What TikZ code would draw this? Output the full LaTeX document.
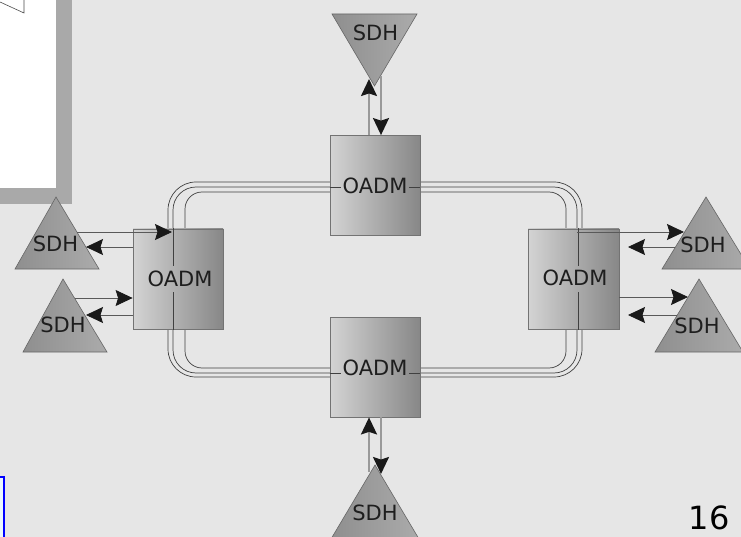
\documentclass[tikz,border=0pt]{standalone}
\usepackage{fontspec}
\setmainfont{DejaVu Sans}
\usetikzlibrary{arrows.meta}
\definecolor{bgc}{HTML}{E6E6E6}
\definecolor{shc}{HTML}{A9A9A9}
\definecolor{txc}{HTML}{1E1E1E}
\begin{document}
\begin{tikzpicture}[x=1pt,y=-1pt,
  ring/.style={draw=black!75, line width=0.7pt},
  oadm/.style={draw=black!55, line width=0.8pt, left color=black!17, right color=black!47, minimum width=90pt, minimum height=100pt, inner sep=0pt},
  sdh/.style={draw=black!60, line width=0.6pt, left color=black!44, right color=black!33},
  lbl/.style={font=\fontsize{21}{25}\selectfont, text=txc, inner sep=0pt},
  tip/.style={-{Stealth[length=17pt,width=16pt,inset=2.5pt,color=black!90]}},
  harr/.style={tip, draw=black!65, line width=0.8pt},
  varr/.style={tip, draw=black!40, line width=1.8pt},
]
\useasboundingbox (0,0) rectangle (741,537);
\fill[bgc] (0,0) rectangle (741,537);

% callout (top left)
\fill[shc] (0,0) rectangle (72,204);
\fill[white] (0,0) rectangle (56,188);
\draw[black!70, line width=0.6pt] (0,2) -- (24,13) -- (24,0);

% blue frame (bottom left)
\fill[cyan!8] (-2,477) rectangle (4,540);
\draw[blue, line width=1.4pt] (-2,477) -- (4,477) -- (4,540);

% ring
\draw[ring, rounded corners=28pt] (168,182) rectangle (582,377);
\draw[ring, rounded corners=23pt] (173,187) rectangle (577,373);
\draw[ring, rounded corners=17pt] (185,192) rectangle (566,368);

% OADM boxes
\node[oadm] (top) at (375,185.5) {};
\node[oadm] (bot) at (375,367) {};
\node[oadm] (lft) at (178,279) {};
\node[oadm, minimum width=91pt] (rgt) at (573.5,279) {};

% middle ring line drawn over the boxes
\draw[ring] (top.west |- 0,187) -- (341,187);
\draw[ring] (409,187) -- (top.east |- 0,187);
\draw[ring] (bot.west |- 0,373) -- (341,373);
\draw[ring] (409,373) -- (bot.east |- 0,373);
\draw[ring] (173,228) -- (173,266);
\draw[ring] (173,292) -- (173,330);
\draw[ring] (578,228) -- (578,266);
\draw[ring] (578,292) -- (578,330);

\node[lbl] (topl) at (375,185.5) {OADM};
\node[lbl] (botl) at (375,368) {OADM};
\node[lbl] (lftl) at (180,279) {OADM};
\node[lbl] (rgtl) at (575,278) {OADM};

% SDH triangles
\path[sdh] (332,14) -- (417,14) -- (374.5,86) -- cycle;
\node[lbl] (sdhT) at (375.5,33) {SDH};
\path[sdh] (375,465) -- (419,539) -- (331,539) -- cycle;
\node[lbl] (sdhB) at (375,513) {SDH};
\path[sdh] (56,197) -- (99,269) -- (15,269) -- cycle;
\node[lbl] (sdhL1) at (55.5,243.5) {SDH};
\path[sdh] (63,279) -- (107,352) -- (23,352) -- cycle;
\node[lbl] (sdhL2) at (63,325) {SDH};
\path[sdh] (706,197) -- (750,269) -- (662,269) -- cycle;
\node[lbl] (sdhR1) at (703,245) {SDH};
\path[sdh] (699,279) -- (743,352) -- (655,352) -- cycle;
\node[lbl] (sdhR2) at (697,325.5) {SDH};

% vertical connectors
\draw[varr] (top.north -| 369,0) -- (369,79);
\draw[varr] (381,76) -- (top.north -| 381,0);
\draw[varr] (369,472) -- (bot.south -| 369,0);
\draw[varr] (bot.south -| 381,0) -- (381,474);

% horizontal connectors
\draw[harr] (77,232) -- (172,232);
\draw[harr] (lft.west |- 0,247) -- (86,247);
\draw[harr] (75,298) -- (lft.west |- 0,298);
\draw[harr] (lft.west |- 0,315) -- (86,315);
\draw[harr] (577,232) -- (684,232);
\draw[harr] (675,247) -- (628,247);
\draw[harr] (rgt.east |- 0,297) -- (688,297);
\draw[harr] (677,315) -- (628,315);

% page number
\node[font=\fontsize{32}{36}\selectfont, text=black, inner sep=0pt] (pg) at (709,518) {16};
\end{tikzpicture}
\end{document}
